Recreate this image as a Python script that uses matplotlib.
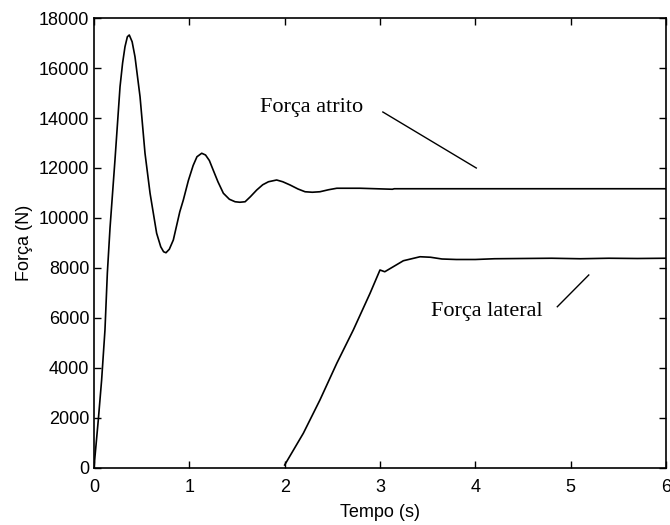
import matplotlib
matplotlib.use("Agg")
from matplotlib import pyplot as plt

# Força atrito (N) over time (s)
t_atrito = [0.0, 0.01, 0.045, 0.08, 0.115, 0.14, 0.168, 0.22, 0.273, 0.30, 0.325, 0.35,
            0.37, 0.40, 0.43, 0.483, 0.535, 0.588, 0.657, 0.70, 0.73, 0.755, 0.79,
            0.832, 0.90, 0.937, 0.99, 1.04, 1.08, 1.13, 1.17, 1.21, 1.25, 1.30, 1.357,
            1.42, 1.48, 1.53, 1.585, 1.64, 1.707, 1.77, 1.83, 1.916, 1.98, 2.057,
            2.14, 2.214, 2.29, 2.37, 2.46, 2.547, 2.79, 3.13, 3.15, 6.0]
f_atrito = [0, 450, 1920, 3520, 5520, 7800, 9600, 12320, 15250, 16200, 16850, 17250,
            17320, 17050, 16450, 14850, 12590, 10990, 9390, 8850, 8650, 8610, 8750,
            9120, 10250, 10720, 11500, 12100, 12450, 12590, 12520, 12300, 11920, 11450, 10990,
            10750, 10650, 10630, 10650, 10850, 11120, 11330, 11450, 11520, 11450, 11320,
            11160, 11050, 11030, 11050, 11130, 11190, 11190, 11150, 11170, 11170]

# Força lateral (N)
t_lateral = [2.0, 2.196, 2.37, 2.547, 2.72, 2.896, 3.0, 3.05, 3.245, 3.42, 3.53,
             3.65, 3.80, 4.00, 4.20, 4.50, 4.80, 5.10, 5.40, 5.70, 6.0]
f_lateral = [120, 1390, 2720, 4190, 5520, 6990, 7920, 7850, 8290, 8450, 8430,
             8360, 8340, 8340, 8370, 8380, 8390, 8370, 8390, 8380, 8390]

x_ticks = [0, 1, 2, 3, 4, 5, 6]
y_ticks = [0, 2000, 4000, 6000, 8000, 10000, 12000, 14000, 16000, 18000]

plt.rcParams['font.family'] = ['Liberation Sans', 'DejaVu Sans']

fig = plt.figure(figsize=(6.7, 5.25), dpi=100)
ax = fig.add_axes([0.1403, 0.1086, 0.8537, 0.8571])

ax.plot(t_atrito, f_atrito, color='black', linewidth=1.2)
ax.plot(t_lateral, f_lateral, color='black', linewidth=1.2)

ax.set_xlim(0, 6)
ax.set_ylim(0, 18000)
ax.set_xticks(x_ticks)
ax.set_yticks(y_ticks)
ax.tick_params(direction='in', length=5, width=1, top=True, right=True, labelsize=13)
ax.tick_params(axis='x', pad=8)
for s in ax.spines.values():
    s.set_linewidth(1.2)

ax.set_xlabel("Tempo (s)", fontsize=13, labelpad=6)
ax.set_ylabel("Força (N)", fontsize=13)

# annotations
ax.text(1.74, 14440, "Força atrito", family='Liberation Serif', fontsize=16,
        ha='left', va='center')
ax.plot([3.03, 4.01], [14240, 12000], color='black', linewidth=1)
ax.text(3.54, 6240, "Força lateral", family='Liberation Serif', fontsize=16,
        ha='left', va='center')
ax.plot([4.86, 5.19], [6450, 7720], color='black', linewidth=1)

fig.savefig("out.png", dpi=100)
